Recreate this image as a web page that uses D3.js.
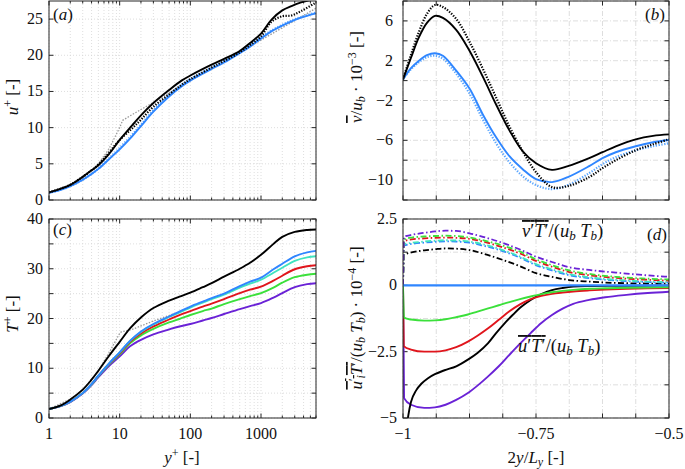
<!DOCTYPE html>
<html>
<head>
<meta charset="utf-8">
<script src="https://cdn.jsdelivr.net/npm/d3@7.9.0/dist/d3.min.js"></script>
<style>
body { margin: 0; background: #fff; }
svg { display: block; }
</style>
</head>
<body>
<svg id="chart" width="685" height="469"></svg>
<script>
// ---------- (a) mean velocity u+ vs y+ ----------
const aYp = [1, 1.5, 2, 3, 4, 5, 7, 10, 15, 20, 30, 50, 75, 100, 200, 300, 500, 700, 1000, 1400, 2000, 2700, 3700, 6000];
const aBlackSolid = [1.05, 1.6, 2.1, 3.2, 4.1, 4.8, 6.3, 8.3, 10.3, 11.7, 13.4, 15.2, 16.5, 17.2, 18.7, 19.5, 20.6, 21.7, 23.0, 24.9, 26.2, 26.8, 27.3, 27.8];
const aBlackDot = [1.05, 1.6, 2.1, 3.2, 4.1, 4.9, 6.5, 8.3, 9.9, 11.1, 12.9, 14.6, 15.9, 16.7, 18.3, 19.2, 20.4, 21.4, 22.6, 24.6, 25.4, 25.5, 26.1, 27.3];
const aBlueSolid = [1.0, 1.45, 1.9, 2.8, 3.6, 4.3, 5.6, 7.0, 8.8, 10.2, 12.2, 14.3, 15.7, 16.5, 18.1, 19.0, 20.3, 21.2, 22.3, 23.3, 24.1, 24.7, 25.2, 25.8];
const aBlueDot = [1.0, 1.45, 1.9, 2.8, 3.6, 4.35, 5.7, 7.2, 9.0, 10.4, 12.4, 14.5, 15.9, 16.7, 18.3, 19.2, 20.5, 21.4, 22.5, 23.4, 24.2, 24.8, 25.3, 25.9];
const aGrayYp = [1, 2, 3, 5, 7, 10, 11, 15, 20, 30, 50, 100, 200, 500, 1000, 2000, 3700, 6000];
const aGray = [1, 2, 3, 5, 7, 10, 11, 11.8, 12.5, 13.5, 14.8, 16.5, 18.2, 20.4, 22.1, 23.8, 25.3, 26.5];

// ---------- (b) mean wall-normal velocity ----------
const bX = [-1, -0.985, -0.97, -0.955, -0.94, -0.925, -0.9, -0.875, -0.85, -0.825, -0.8, -0.775, -0.75, -0.72, -0.69, -0.65, -0.625, -0.6, -0.5625, -0.53, -0.5];
const bBlackSolid = [0.13, 2.3, 4.36, 5.8, 6.5, 6.3, 5.1, 3.0, 0.4, -2.4, -5.0, -7.1, -8.3, -8.97, -8.6, -7.8, -7.2, -6.6, -5.9, -5.55, -5.4];
const bBlackDot = [0.13, 2.6, 4.9, 6.7, 7.6, 7.4, 6.2, 3.9, 1.2, -1.7, -4.6, -7.1, -9.2, -10.7, -10.6, -9.7, -8.8, -8.0, -7.0, -6.4, -5.9];
const bBlueSolid = [0.13, 1.25, 2.0, 2.55, 2.75, 2.5, 1.0, -0.8, -3.4, -5.7, -7.6, -8.9, -9.9, -10.2, -9.7, -8.6, -7.8, -7.2, -6.6, -6.2, -5.97];
const bBlueDot = [0.13, 1.15, 1.85, 2.35, 2.5, 2.2, 0.7, -1.3, -3.9, -6.3, -8.2, -9.6, -10.5, -10.9, -10.5, -9.3, -8.4, -7.7, -7.0, -6.6, -6.3];

// ---------- (c) mean temperature T+ vs y+ ----------
const cYp = [1, 1.5, 2, 3, 4, 5, 7, 10, 14, 20, 30, 50, 70, 100, 150, 200, 300, 500, 700, 1000, 1500, 2000, 3000, 4500, 6000];
const cBlack = [1.8, 2.6, 3.7, 5.7, 7.7, 9.5, 12.4, 15.3, 18.0, 20.2, 22.1, 23.6, 24.4, 25.2, 26.3, 27.1, 28.4, 30.0, 31.2, 32.8, 35.0, 36.4, 37.4, 37.8, 37.9];
const cBlue = [1.8, 2.5, 3.3, 5.0, 6.8, 8.5, 10.9, 13.2, 15.5, 17.4, 18.9, 20.4, 21.4, 22.4, 23.4, 24.1, 25.0, 26.5, 27.4, 28.2, 29.9, 31.0, 32.5, 33.3, 33.6];
const cCyan = [1.8, 2.5, 3.3, 5.0, 6.8, 8.5, 10.9, 13.2, 15.5, 17.3, 18.8, 20.3, 21.2, 22.2, 23.2, 23.9, 24.8, 26.2, 27.0, 27.8, 29.2, 30.2, 31.6, 32.3, 32.5];
const cRed = [1.8, 2.5, 3.3, 5.0, 6.8, 8.5, 10.8, 13.0, 15.3, 17.0, 18.4, 19.8, 20.7, 21.5, 22.4, 23.0, 23.9, 25.1, 25.8, 26.4, 27.6, 28.6, 29.9, 30.5, 30.7];
const cGreen = [1.8, 2.5, 3.3, 5.0, 6.7, 8.4, 10.7, 12.8, 15.0, 16.6, 17.9, 19.2, 19.9, 20.7, 21.5, 22.0, 22.9, 23.9, 24.5, 25.1, 26.2, 27.2, 28.3, 28.8, 29.0];
const cPurple = [1.8, 2.45, 3.2, 4.9, 6.6, 8.2, 10.4, 12.4, 14.4, 15.7, 16.8, 17.8, 18.4, 18.9, 19.6, 20.1, 20.9, 21.9, 22.5, 23.1, 24.2, 25.1, 26.3, 26.9, 27.1];
const cGrayYp = [1, 2, 3, 5, 7, 10, 10.5, 15, 20, 30, 50, 80];
const cGray = [1.8, 3.8, 5.6, 9.5, 13.0, 17.0, 17.3, 17.8, 18.5, 19.5, 20.6, 21.6];

// ---------- (d) turbulent heat fluxes ----------
const dX = [-1, -0.998, -0.984, -0.96, -0.94, -0.92, -0.9, -0.875, -0.85, -0.8125, -0.78, -0.75, -0.72, -0.6875, -0.65, -0.6, -0.55, -0.5];
const dvPurple = [0, 1.83, 1.9, 1.98, 2.03, 2.06, 2.05, 1.96, 1.83, 1.6, 1.35, 1.08, 0.88, 0.68, 0.58, 0.48, 0.39, 0.32];
const dvGreen = [0, 1.72, 1.8, 1.84, 1.86, 1.87, 1.86, 1.8, 1.7, 1.5, 1.27, 0.98, 0.76, 0.56, 0.43, 0.32, 0.26, 0.22];
const dvRed = [0, 1.66, 1.73, 1.77, 1.79, 1.8, 1.79, 1.75, 1.65, 1.43, 1.2, 0.92, 0.7, 0.5, 0.38, 0.28, 0.22, 0.18];
const dvCyan = [0, 1.55, 1.6, 1.65, 1.68, 1.7, 1.69, 1.65, 1.55, 1.33, 1.08, 0.8, 0.6, 0.42, 0.3, 0.21, 0.15, 0.12];
const dvBlue = [0, 1.5, 1.56, 1.61, 1.64, 1.66, 1.65, 1.61, 1.5, 1.29, 1.04, 0.76, 0.56, 0.38, 0.27, 0.18, 0.13, 0.1];
const dvBlack = [0, 1.15, 1.24, 1.32, 1.36, 1.39, 1.38, 1.33, 1.2, 0.96, 0.72, 0.46, 0.32, 0.2, 0.14, 0.09, 0.07, 0.06];

const duX = [-1, -0.998, -0.985, -0.96, -0.94, -0.92, -0.9, -0.878, -0.86, -0.84, -0.82, -0.8, -0.78, -0.76, -0.74, -0.72, -0.7, -0.68, -0.65, -0.62, -0.58, -0.54, -0.5];
const duPurple = [0, -4.25, -4.5, -4.62, -4.6, -4.5, -4.32, -4.06, -3.78, -3.43, -3.05, -2.62, -2.2, -1.8, -1.42, -1.12, -0.88, -0.7, -0.55, -0.45, -0.36, -0.29, -0.24];
const duRed = [0, -2.3, -2.42, -2.5, -2.5, -2.45, -2.33, -2.12, -1.9, -1.62, -1.3, -0.98, -0.72, -0.52, -0.4, -0.32, -0.27, -0.23, -0.19, -0.16, -0.13, -0.11, -0.1];
const duGreen = [0, -1.22, -1.29, -1.33, -1.32, -1.28, -1.2, -1.1, -0.99, -0.87, -0.75, -0.63, -0.52, -0.42, -0.33, -0.26, -0.21, -0.17, -0.13, -0.11, -0.09, -0.08, -0.07];
const duBlackX = [-0.994, -0.99, -0.985, -0.975, -0.965, -0.953, -0.94, -0.922, -0.9, -0.878, -0.86, -0.84, -0.825, -0.809, -0.793, -0.777, -0.76, -0.74, -0.72, -0.7, -0.68, -0.65, -0.6, -0.5];
const duBlack = [-5.5, -4.9, -4.4, -3.95, -3.7, -3.5, -3.35, -3.2, -3.05, -2.8, -2.55, -2.18, -1.8, -1.43, -1.1, -0.8, -0.55, -0.33, -0.18, -0.1, -0.05, -0.03, -0.02, -0.01];
const duBlueX = [-1, -0.5];
const duBlue = [0, 0];

const colors = {
  black: "#000000", blue: "#2f86ff", blueLight: "#5aa6ff", gray: "#9a9a9a",
  cyan: "#3fe3bf", red: "#e0151c", green: "#3be03b", purple: "#6a22d6"
};
const FONT = "Liberation Serif";

const svg = d3.select("#chart");

function zip(xs, ys) { return xs.map((x, i) => [x, ys[i]]); }

function panel(id, xScale, yScale, opts) {
  const [x0, x1] = xScale.range();
  const [y1, y0] = yScale.range();
  svg.append("clipPath").attr("id", "clip-" + id)
    .append("rect").attr("x", x0).attr("y", y0).attr("width", x1 - x0).attr("height", y1 - y0);
  const g = svg.append("g");

  // grid
  const grid = g.append("g").attr("stroke", "#d6d6d6").attr("stroke-width", 0.8)
    .attr("stroke-dasharray", opts.gridDash);
  grid.selectAll(".gx").data(opts.xGrid).join("line")
    .attr("x1", d => xScale(d)).attr("x2", d => xScale(d)).attr("y1", y0).attr("y2", y1);
  grid.selectAll(".gy").data(opts.yTicks).join("line")
    .attr("x1", x0).attr("x2", x1).attr("y1", d => yScale(d)).attr("y2", d => yScale(d));

  // ticks (inside, mirrored)
  const tk = g.append("g").attr("stroke", "#262626").attr("stroke-width", 1);
  opts.xTicks.forEach(t => {
    const len = t.minor ? 2.5 : 4.5;
    const px = xScale(t.v);
    tk.append("line").attr("x1", px).attr("x2", px).attr("y1", y1).attr("y2", y1 - len);
    tk.append("line").attr("x1", px).attr("x2", px).attr("y1", y0).attr("y2", y0 + len);
  });
  opts.yTicks.forEach(v => {
    const py = yScale(v);
    tk.append("line").attr("x1", x0).attr("x2", x0 + 4.5).attr("y1", py).attr("y2", py);
    tk.append("line").attr("x1", x1).attr("x2", x1 - 4.5).attr("y1", py).attr("y2", py);
  });

  // tick labels
  opts.yLabels.forEach(v => {
    g.append("text").attr("font-family", FONT).attr("font-size", 16).attr("fill", "#111")
      .attr("x", x0 - opts.yLabelGap).attr("y", yScale(v) + 5)
      .attr("text-anchor", "end").text(opts.yFmt(v));
  });
  (opts.xLabels || []).forEach(v => {
    g.append("text").attr("font-family", FONT).attr("font-size", 16).attr("fill", "#111")
      .attr("x", xScale(v)).attr("y", y1 + 21)
      .attr("text-anchor", "middle").text(opts.xFmt(v));
  });

  const plot = g.append("g").attr("clip-path", `url(#clip-${id})`);
  g.append("rect").attr("x", x0).attr("y", y0).attr("width", x1 - x0).attr("height", y1 - y0)
    .attr("fill", "none").attr("stroke", "#262626").attr("stroke-width", 1);
  return plot;
}

function drawLine(plot, xScale, yScale, xs, ys, color, style, curve) {
  const line = d3.line().x(d => xScale(d[0])).y(d => yScale(d[1]))
    .curve(curve || d3.curveMonotoneX);
  const p = plot.append("path").datum(zip(xs, ys)).attr("d", line)
    .attr("fill", "none").attr("stroke", color).attr("stroke-linejoin", "round");
  if (style === "dot") p.attr("stroke-width", 2.2).attr("stroke-dasharray", "1.3 1.5");
  else if (style === "thindot") p.attr("stroke-width", 1.3).attr("stroke-dasharray", "1.5 1.5");
  else if (style === "dashdot") p.attr("stroke-width", 1.8).attr("stroke-dasharray", "6 2.5 1.5 2.5");
  else p.attr("stroke-width", 1.9);
  return p;
}

function fmtMinus(v) { return String(v).replace("-", "\u2212"); }

// log grid values
const logGrid = [];
for (let e = 0; e <= 3; e++) for (let k = 1; k <= 9; k++) { const v = k * Math.pow(10, e); if (v <= 6000) logGrid.push(v); }
const logTicks = logGrid.map(v => ({ v, minor: ![1, 10, 100, 1000].includes(v) }));
const smooth = d3.curveCatmullRom.alpha(0.5);

// ----- panel (a)
const xA = d3.scaleLog().domain([1, 6000]).range([49, 316]);
const yA = d3.scaleLinear().domain([0, 27.5]).range([200, 1]);
const pA = panel("a", xA, yA, {
  gridDash: "1 2", xGrid: logGrid, xTicks: logTicks,
  yTicks: [0, 5, 10, 15, 20, 25], yLabels: [0, 5, 10, 15, 20, 25], yLabelGap: 6, yFmt: v => v
});
drawLine(pA, xA, yA, aGrayYp, aGray, colors.gray, "thindot", d3.curveLinear);
drawLine(pA, xA, yA, aYp, aBlueDot, colors.blueLight, "dot", smooth);
drawLine(pA, xA, yA, aYp, aBlueSolid, colors.blue, "solid", smooth);
drawLine(pA, xA, yA, aYp, aBlackDot, colors.black, "dot", smooth);
drawLine(pA, xA, yA, aYp, aBlackSolid, colors.black, "solid", smooth);

// ----- panel (b)
const xB = d3.scaleLinear().domain([-1, -0.5]).range([403, 669]);
const yB = d3.scaleLinear().domain([-12, 8]).range([200, 1]);
const linGrid = d3.range(0, 9).map(i => -1 + i * 0.0625);
const pB = panel("b", xB, yB, {
  gridDash: "5 2 1 2", xGrid: linGrid, xTicks: linGrid.map(v => ({ v, minor: false })),
  yTicks: [-12, -10, -8, -6, -4, -2, 0, 2, 4, 6, 8], yLabels: [-10, -6, -2, 2, 6], yLabelGap: 10, yFmt: fmtMinus
});
drawLine(pB, xB, yB, bX, bBlueDot, colors.blueLight, "dot", smooth);
drawLine(pB, xB, yB, bX, bBlueSolid, colors.blue, "solid", smooth);
drawLine(pB, xB, yB, bX, bBlackDot, colors.black, "dot", smooth);
drawLine(pB, xB, yB, bX, bBlackSolid, colors.black, "solid", smooth);

// ----- panel (c)
const xC = d3.scaleLog().domain([1, 6000]).range([49, 316]);
const yC = d3.scaleLinear().domain([0, 40]).range([418, 219]);
const pC = panel("c", xC, yC, {
  gridDash: "1 2", xGrid: logGrid, xTicks: logTicks,
  yTicks: [0, 5, 10, 15, 20, 25, 30, 35, 40], yLabels: [0, 10, 20, 30, 40], yLabelGap: 6, yFmt: v => v,
  xLabels: [1, 10, 100, 1000], xFmt: v => v
});
drawLine(pC, xC, yC, cGrayYp, cGray, colors.gray, "thindot", d3.curveLinear);
drawLine(pC, xC, yC, cYp, cPurple, colors.purple, "solid", smooth);
drawLine(pC, xC, yC, cYp, cGreen, colors.green, "solid", smooth);
drawLine(pC, xC, yC, cYp, cRed, colors.red, "solid", smooth);
drawLine(pC, xC, yC, cYp, cCyan, colors.cyan, "solid", smooth);
drawLine(pC, xC, yC, cYp, cBlue, colors.blue, "solid", smooth);
drawLine(pC, xC, yC, cYp, cBlack, colors.black, "solid", smooth);

// ----- panel (d)
const xD = d3.scaleLinear().domain([-1, -0.5]).range([403, 669]);
const yD = d3.scaleLinear().domain([-5, 2.5]).range([418, 219]);
const pD = panel("d", xD, yD, {
  gridDash: "5 2 1 2", xGrid: linGrid, xTicks: linGrid.map(v => ({ v, minor: false })),
  yTicks: [-5, -3.75, -2.5, -1.25, 0, 1.25, 2.5], yLabels: [-5, -2.5, 0, 2.5], yLabelGap: 6, yFmt: fmtMinus,
  xLabels: [-1, -0.75, -0.5], xFmt: fmtMinus
});
drawLine(pD, xD, yD, dX, dvBlack, colors.black, "dashdot");
drawLine(pD, xD, yD, dX, dvBlue, colors.blue, "dashdot");
drawLine(pD, xD, yD, dX, dvCyan, colors.cyan, "dashdot");
drawLine(pD, xD, yD, dX, dvRed, colors.red, "dashdot");
drawLine(pD, xD, yD, dX, dvGreen, colors.green, "dashdot");
drawLine(pD, xD, yD, dX, dvPurple, colors.purple, "dashdot");
drawLine(pD, xD, yD, duX, duPurple, colors.purple, "solid");
drawLine(pD, xD, yD, duBlackX, duBlack, colors.black, "solid");
drawLine(pD, xD, yD, duX, duRed, colors.red, "solid");
drawLine(pD, xD, yD, duX, duGreen, colors.green, "solid");
drawLine(pD, xD, yD, duBlueX, duBlue, colors.blue, "solid").attr("stroke-width", 2.2);

// ---------- text ----------
function rich(x, y, parts, opts = {}) {
  const t = svg.append("text").attr("x", x).attr("y", y).attr("font-size", opts.size || 17)
    .attr("font-family", FONT).attr("fill", "#111").attr("text-anchor", opts.anchor || "start");
  if (opts.rotate) t.attr("transform", `rotate(-90,${x},${y})`);
  parts.forEach(p => {
    const s = t.append("tspan").attr("font-family", FONT).text(p.t);
    if (p.i) s.attr("font-style", "italic");
    if (p.fs) s.attr("font-size", p.fs);
    if (p.dy) s.attr("dy", p.dy);
    if (p.ol) s.style("text-decoration", "overline");
  });
  return t;
}

// axis titles
rich(18, 97, [{ t: "u", i: 1 }, { t: "+", fs: 12, dy: -6 }, { t: " [-]", dy: 6 }], { rotate: 1, anchor: "middle" });
rich(18, 314, [{ t: "T", i: 1 }, { t: "+", fs: 12, dy: -6 }, { t: " [-]", dy: 6 }], { rotate: 1, anchor: "middle" });
rich(362, 77, [
  { t: "v", i: 1, ol: 1 }, { t: "/" }, { t: "u", i: 1 }, { t: "b", i: 1, fs: 12, dy: 3 },
  { t: " \u00b7 10", dy: -3 }, { t: "\u22123", fs: 12, dy: -6 }, { t: " [-]", dy: 6 }
], { rotate: 1, anchor: "middle" });
rich(362, 318, [
  { t: "u", i: 1, ol: 1 }, { t: "\u2032", ol: 1, fs: 12, dy: -5 }, { t: "i", i: 1, ol: 1, fs: 12, dy: 8 },
  { t: "T", i: 1, ol: 1, dy: -3 }, { t: "\u2032", ol: 1 },
  { t: "/(" }, { t: "u", i: 1 }, { t: "b", i: 1, fs: 12, dy: 3 }, { t: " ", dy: -3 }, { t: "T", i: 1 },
  { t: "b", i: 1, fs: 12, dy: 3 }, { t: ") \u00b7 10", dy: -3 }, { t: "\u22124", fs: 12, dy: -6 }, { t: " [-]", dy: 6 }
], { rotate: 1, anchor: "middle" });

rich(182, 463, [{ t: "y", i: 1 }, { t: "+", fs: 12, dy: -6 }, { t: "  [-]", dy: 6 }], { anchor: "middle" });
rich(536, 463, [{ t: "2" }, { t: "y", i: 1 }, { t: "/" }, { t: "L", i: 1 }, { t: "y", i: 1, fs: 12, dy: 3 }, { t: "  [-]", dy: -3 }], { anchor: "middle" });

// panel tags
rich(53, 20, [{ t: "(" }, { t: "a", i: 1 }, { t: ")" }]);
rich(645, 20, [{ t: "(" }, { t: "b", i: 1 }, { t: ")" }]);
rich(53, 235, [{ t: "(" }, { t: "c", i: 1 }, { t: ")" }]);
rich(647, 240, [{ t: "(" }, { t: "d", i: 1 }, { t: ")" }]);

// flux annotations
rich(522, 237, [
  { t: "v", i: 1, ol: 1 }, { t: "\u2032", ol: 1 }, { t: "T", i: 1, ol: 1 }, { t: "\u2032", ol: 1 },
  { t: "/(" }, { t: "u", i: 1 }, { t: "b", i: 1, fs: 13, dy: 3 }, { t: " ", dy: -3 }, { t: "T", i: 1 },
  { t: "b", i: 1, fs: 13, dy: 3 }, { t: ")", dy: -3 }
], { size: 18.5 });
rich(518, 352, [
  { t: "u", i: 1, ol: 1 }, { t: "\u2032", ol: 1 }, { t: "T", i: 1, ol: 1 }, { t: "\u2032", ol: 1 },
  { t: "/(" }, { t: "u", i: 1 }, { t: "b", i: 1, fs: 13, dy: 3 }, { t: " ", dy: -3 }, { t: "T", i: 1 },
  { t: "b", i: 1, fs: 13, dy: 3 }, { t: ")", dy: -3 }
], { size: 18.5 });
</script>
</body>
</html>
